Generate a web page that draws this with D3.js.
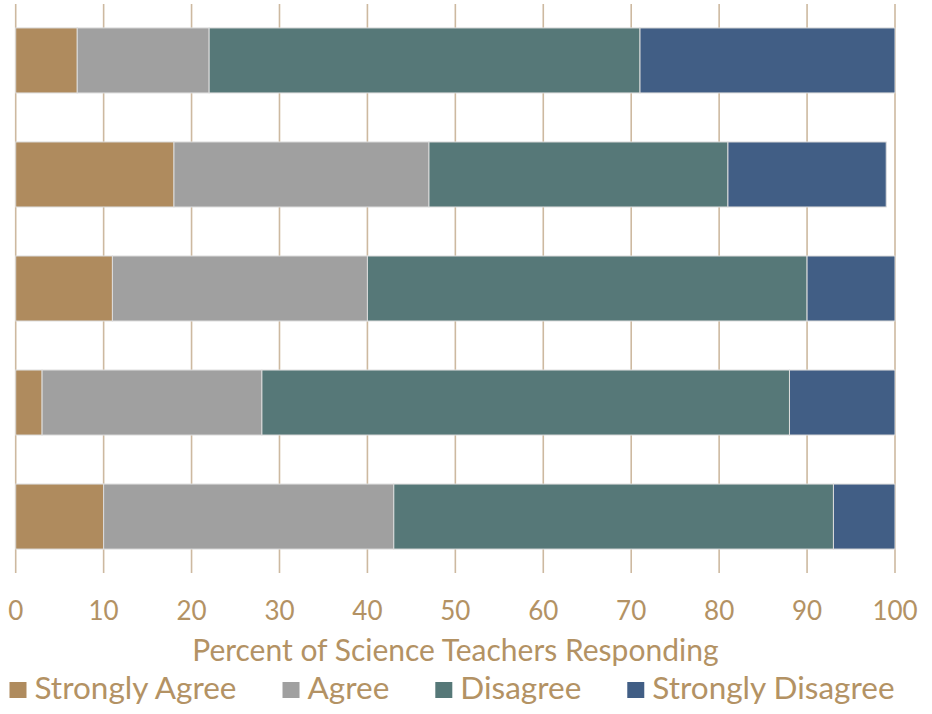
<!DOCTYPE html>
<html>
<head>
<meta charset="utf-8">
<script src="https://cdn.jsdelivr.net/npm/d3@7"></script>
<style>
  html, body { margin: 0; padding: 0; background: #fff; }
  svg { display: block; font-family: Lato, "Open Sans", sans-serif; }
</style>
</head>
<body>
<div id="chart"></div>
<script>
(function () {
  'use strict';

  // one row per bar, top to bottom
  var items = ['Item 1', 'Item 2', 'Item 3', 'Item 4', 'Item 5'];
  var responses = ['Strongly Agree', 'Agree', 'Disagree', 'Strongly Disagree'];
  var stronglyAgree = [7, 18, 11, 3, 10];
  var agree = [15, 29, 29, 25, 33];
  var disagree = [49, 34, 50, 60, 50];
  var stronglyDisagree = [29, 18, 10, 12, 7];
  var xTicks = [0, 10, 20, 30, 40, 50, 60, 70, 80, 90, 100];
  var colors = ['#af8b5e', '#a0a0a0', '#567878', '#415e85'];

  var width = 932;
  var height = 714;
  var textColor = '#b39264';

  var rows = items.map(function (name, i) {
    return {
      name: name,
      'Strongly Agree': stronglyAgree[i],
      'Agree': agree[i],
      'Disagree': disagree[i],
      'Strongly Disagree': stronglyDisagree[i]
    };
  });

  var series = d3.stack().keys(responses)(rows);

  var x = d3.scaleLinear().domain([0, 100]).range([15.7, 895]);
  var y = d3.scaleBand().domain(items).range([4, 573]).paddingInner(0.43).paddingOuter(0.21);
  var color = d3.scaleOrdinal().domain(responses).range(colors);

  var svg = d3.select('#chart').append('svg')
    .attr('width', width)
    .attr('height', height);

  // vertical gridlines (run past the bars as tick marks)
  svg.append('g')
    .selectAll('line')
    .data(xTicks)
    .join('line')
    .attr('x1', function (d) { return x(d); })
    .attr('x2', function (d) { return x(d); })
    .attr('y1', y.range()[0])
    .attr('y2', y.range()[1])
    .attr('stroke', '#cdb9a0')
    .attr('stroke-width', 1.6);

  svg.append('g')
    .selectAll('g')
    .data(series)
    .join('g')
    .attr('fill', function (d) { return color(d.key); })
    .selectAll('rect')
    .data(function (d) { return d; })
    .join('rect')
    .attr('x', function (d) { return x(d[0]); })
    .attr('y', function (d) { return y(d.data.name); })
    .attr('width', function (d) { return x(d[1]) - x(d[0]); })
    .attr('height', y.bandwidth())
    .attr('stroke', '#dcdcdc')
    .attr('stroke-width', 1);

  // tick labels
  svg.append('g')
    .attr('fill', textColor)
    .attr('font-size', 26)
    .attr('text-anchor', 'middle')
    .selectAll('text')
    .data(xTicks)
    .join('text')
    .attr('x', function (d) { return x(d); })
    .attr('y', 620)
    .text(function (d) { return d; });

  svg.append('text')
    .attr('x', (x.range()[0] + x.range()[1]) / 2)
    .attr('y', 661)
    .attr('fill', textColor)
    .attr('font-size', 30)
    .attr('text-anchor', 'middle')
    .text('Percent of Science Teachers Responding');

  // legend, laid out from measured text widths and centred
  var legend = svg.append('g').attr('font-size', 31.5).attr('fill', textColor);
  var entries = legend.selectAll('g')
    .data(responses)
    .join('g');
  entries.append('rect')
    .attr('width', 17)
    .attr('height', 16)
    .attr('y', -17)
    .attr('fill', function (d) { return color(d); });
  entries.append('text')
    .attr('x', 25)
    .text(function (d) { return d; });

  var pos = 0;
  entries.each(function () {
    var w = d3.select(this).select('text').node().getComputedTextLength();
    d3.select(this).attr('data-x', pos);
    pos += 25 + w + 46;
  });
  var total = pos - 46;
  var start = 452 - total / 2;
  entries.attr('transform', function () {
    return 'translate(' + (start + (+this.getAttribute('data-x'))) + ',699)';
  });
})();
</script>
</body>
</html>
